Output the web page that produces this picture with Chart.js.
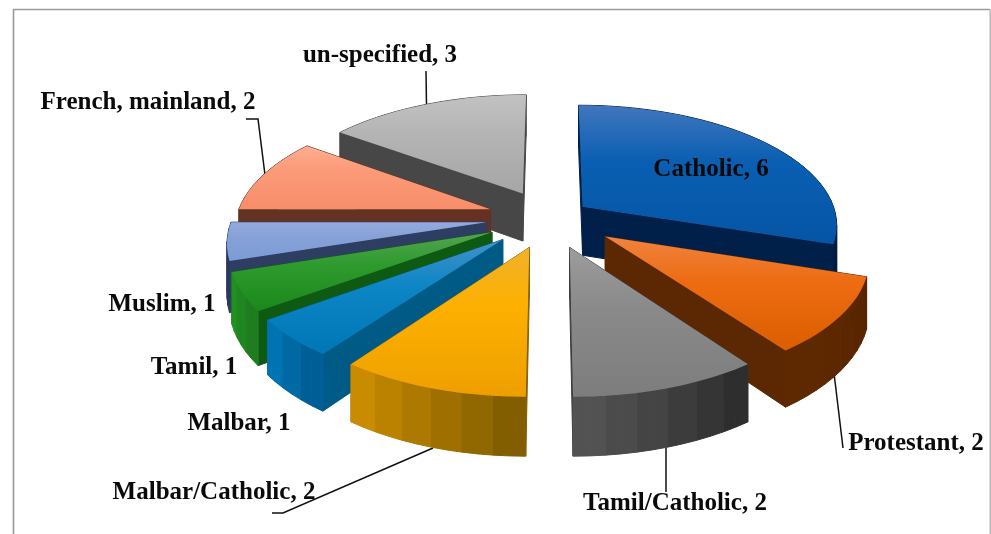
<!DOCTYPE html>
<html>
<head>
<meta charset="utf-8">
<title>Religion pie</title>
<script src="https://cdn.jsdelivr.net/npm/chart.js@4"></script>
<style>
  html, body { margin: 0; padding: 0; background: #fff; }
  #wrap { width: 991px; height: 534px; }
</style>
</head>
<body>
<div id="wrap"><canvas id="chart" width="991" height="534"></canvas></div>
<script>
const categories = ["Catholic", "Protestant", "Tamil/Catholic", "Malbar/Catholic", "Malbar", "Tamil", "Muslim", "French, mainland", "un-specified"];
const values = [6, 2, 2, 2, 1, 1, 1, 2, 3];

// how far each slice is pulled out of the pie, on the pie plane
const explodeX = [33, 54, 19, -20, -46, -57, -63, -60, -28];
const explodeV = [-22, 41, 63, 63, 47, 32, 11, -17, -52];

// top face gradient (back to front), radial walls, rim from start angle to end angle
const topColors = [
  ["#4276bd", "#0a5fb2", "#0555a6"],
  ["#ef8340", "#ed6c12", "#dc5e00"],
  ["#9c9c9c", "#8a8a8a", "#7d7d7d"],
  ["#f0b12a", "#fdb000", "#ee9f00"],
  ["#4392c8", "#0d86c6", "#0076b6"],
  ["#55a351", "#2f9b2f", "#1b881b"],
  ["#94aadb", "#86a1d8", "#7c9bd4"],
  ["#ffae90", "#fb9a78", "#f78e6a"],
  ["#c2c2c2", "#b4b4b4", "#a6a6a6"]
];
const wallColors = ["#00204a", "#5c2804", "#3c3c3c", "#8a6000", "#005a86", "#0f5a12", "#2e3e62", "#633223", "#474747"];
const rimStart = ["#00204a", "#592500", "#2e2e2e", "#835e00", "#005e96", "#1f7d1f", "#2a3a60", "#633223", "#474747"];
const rimEnd = ["#001c44", "#5f2900", "#525252", "#c98b00", "#0074b2", "#209020", "#2a3a60", "#633223", "#474747"];

// label centres and leader lines
const labelX = [711, 916, 675, 214, 239, 194, 162, 148, 380];
const labelY = [170, 444, 504, 493, 424, 368, 305, 103, 56];
const leaders = [
  [[834, 373], [843, 448]],
  [[666, 448], [666, 492]],
  [[433, 448], [283, 513], [272, 513]],
  [[246, 119], [258, 119], [265, 175]],
  [[426, 71], [426.5, 106]]
];

const PIE_RADIUS = 254;
const TILT = 0.467;
const PERSPECTIVE = 1800;
const DEPTH = 49;
const BAND = 2; // rim segments sharing one shade

function mix(a, b, t) {
  const pa = [1, 3, 5].map(i => parseInt(a.substr(i, 2), 16));
  const pb = [1, 3, 5].map(i => parseInt(b.substr(i, 2), 16));
  const c = pa.map((v, i) => Math.round(v + (pb[i] - v) * t));
  return `rgb(${c[0]},${c[1]},${c[2]})`;
}

// pie plane -> screen, z is the height under the top face
function project(cx, cy, u, v, z) {
  const s = PERSPECTIVE / (PERSPECTIVE - v);
  return [cx + u * s, cy + v * TILT * s + z * s];
}

function fillQuad(ctx, pts, color) {
  ctx.beginPath();
  pts.forEach((p, i) => i ? ctx.lineTo(p[0], p[1]) : ctx.moveTo(p[0], p[1]));
  ctx.closePath();
  ctx.fillStyle = color;
  ctx.strokeStyle = color;
  ctx.lineWidth = 1;
  ctx.fill();
  ctx.stroke();
}

function drawSlice(ctx, arc, i) {
  const { x: cx, y: cy, startAngle, endAngle, outerRadius } = arc.getProps(["x", "y", "startAngle", "endAngle", "outerRadius"]);
  const ex = explodeX[i], ev = explodeV[i];

  // outline on the plane: apex, then rim samples
  const steps = Math.max(3, Math.round((endAngle - startAngle) / (Math.PI / 60)));
  const rim = [];
  for (let k = 0; k <= steps; k++) {
    const a = startAngle + (endAngle - startAngle) * k / steps;
    rim.push([ex + Math.cos(a) * outerRadius, ev + Math.sin(a) * outerRadius]);
  }
  const apex = [ex, ev];

  const faces = [];
  const addFace = (p, q, color) => faces.push({ v: (p[1] + q[1]) / 2, p, q, color });
  addFace(apex, rim[0], wallColors[i]);
  addFace(apex, rim[steps], wallColors[i]);
  for (let k = 0; k < steps; k++) {
    const band = Math.floor(k / BAND) * BAND;
    addFace(rim[k], rim[k + 1], mix(rimStart[i], rimEnd[i], band / Math.max(steps - BAND, 1)));
  }
  faces.sort((a, b) => a.v - b.v);
  faces.forEach(f => {
    fillQuad(ctx, [
      project(cx, cy, f.p[0], f.p[1], 0),
      project(cx, cy, f.q[0], f.q[1], 0),
      project(cx, cy, f.q[0], f.q[1], DEPTH),
      project(cx, cy, f.p[0], f.p[1], DEPTH)
    ], f.color);
  });

  // top face
  const top = [apex].concat(rim).map(p => project(cx, cy, p[0], p[1], 0));
  const ys = top.map(p => p[1]);
  const g = ctx.createLinearGradient(0, Math.min(...ys), 0, Math.max(...ys));
  g.addColorStop(0, topColors[i][0]);
  g.addColorStop(0.4, topColors[i][1]);
  g.addColorStop(1, topColors[i][2]);
  ctx.beginPath();
  top.forEach((p, k) => k ? ctx.lineTo(p[0], p[1]) : ctx.moveTo(p[0], p[1]));
  ctx.closePath();
  ctx.fillStyle = g;
  ctx.fill();
}

const pie3d = {
  id: "pie3d",
  beforeDraw(chart) {
    const ctx = chart.ctx;
    ctx.save();
    ctx.fillStyle = "#fff";
    ctx.fillRect(0, 0, chart.width, chart.height);
    // outer frame, open at the bottom
    ctx.strokeStyle = "#9a9a9a";
    ctx.lineWidth = 1.6;
    ctx.beginPath();
    ctx.moveTo(13.5, 534);
    ctx.lineTo(13.5, 9.5);
    ctx.lineTo(990, 9.5);
    ctx.stroke();
    ctx.strokeStyle = "#bdbdbd";
    ctx.beginPath();
    ctx.moveTo(990.2, 9.5);
    ctx.lineTo(990.2, 534);
    ctx.stroke();
    // leaders
    ctx.strokeStyle = "#111";
    ctx.lineWidth = 1.5;
    leaders.forEach(line => {
      ctx.beginPath();
      line.forEach((p, i) => i ? ctx.lineTo(p[0], p[1]) : ctx.moveTo(p[0], p[1]));
      ctx.stroke();
    });
    ctx.restore();
  },
  beforeDatasetsDraw(chart) {
    const ctx = chart.ctx;
    const arcs = chart.getDatasetMeta(0).data;
    // back slices first
    const order = arcs.map((arc, i) => {
      const mid = (arc.startAngle + arc.endAngle) / 2;
      return { i, v: explodeV[i] + Math.sin(mid) * arc.outerRadius * 0.66 };
    }).sort((a, b) => a.v - b.v);
    ctx.save();
    order.forEach(o => drawSlice(ctx, arcs[o.i], o.i));
    ctx.restore();
    return false;
  },
  afterDraw(chart) {
    const ctx = chart.ctx;
    ctx.save();
    ctx.fillStyle = "#0a0a0a";
    ctx.font = "bold 25px 'Liberation Serif'";
    ctx.textAlign = "center";
    ctx.textBaseline = "middle";
    categories.forEach((name, i) => {
      ctx.fillText(`${name}, ${values[i]}`, labelX[i], labelY[i]);
    });
    ctx.restore();
  }
};

new Chart(document.getElementById("chart"), {
  type: "pie",
  data: {
    labels: categories,
    datasets: [{ data: values, backgroundColor: topColors.map(c => c[1]), borderWidth: 0 }]
  },
  options: {
    responsive: false,
    animation: false,
    radius: PIE_RADIUS,
    layout: { padding: { left: 109, bottom: 100 } },
    plugins: { legend: { display: false }, tooltip: { enabled: false } }
  },
  plugins: [pie3d]
});
</script>
</body>
</html>
